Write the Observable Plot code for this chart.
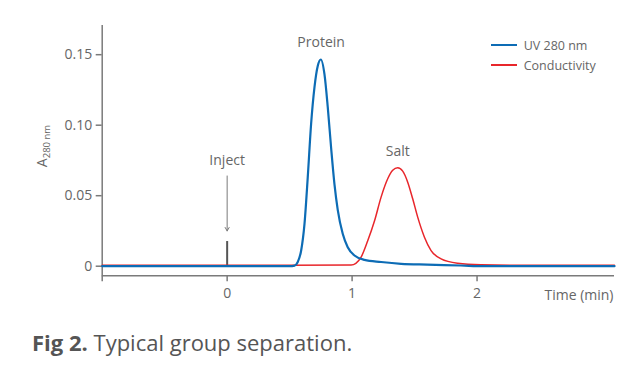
<!DOCTYPE html>
<html>
<head>
<meta charset="utf-8">
<script src="https://cdn.jsdelivr.net/npm/d3@7"></script>
<script src="https://cdn.jsdelivr.net/npm/@observablehq/plot@0.6"></script>
<style>
  html, body { margin: 0; padding: 0; background: #fff; }
  #wrap { position: relative; width: 643px; font-family: "Open Sans", sans-serif; }
  .legend-row { position: absolute; display: flex; align-items: center; font-size: 12.5px; color: #666; }
  .legend-row span.sw { display: inline-block; width: 26px; height: 0; border-top: 2px solid; margin-right: 7px; }
  #caption { margin: 18px 0 0 32px; font-size: 22px; color: #555; line-height: 28px; }
  #caption b { font-weight: 700; }
</style>
</head>
<body>
<div id="wrap">
  <div id="chart"></div>
  <div id="caption"><b>Fig 2.</b> Typical group separation.</div>
</div>
<script>
// UV 280 nm trace (time in min, absorbance)
const uvTime  = [-1, 0.0, 0.5, 0.54, 0.565, 0.592, 0.619, 0.645, 0.672, 0.699, 0.725, 0.75, 0.779, 0.805, 0.832, 0.859, 0.885, 0.925, 0.965, 1.019, 1.099, 1.232, 1.392, 1.6, 1.87, 2.05, 3.1];
const uvValue = [0, 0, 0, 0.0004, 0.003, 0.011, 0.030, 0.063, 0.101, 0.127, 0.142, 0.1466, 0.136, 0.113, 0.084, 0.058, 0.040, 0.023, 0.0135, 0.0076, 0.0045, 0.003, 0.0017, 0.0011, 0.0005, 0, 0];

// Conductivity trace (scaled to the same axis)
const condTime  = [-1, 0.5, 0.992, 1.03, 1.072, 1.125, 1.179, 1.232, 1.285, 1.325, 1.365, 1.405, 1.445, 1.485, 1.525, 1.579, 1.632, 1.712, 1.845, 2.03, 2.4, 3.1];
const condValue = [0.0006, 0.0006, 0.0008, 0.002, 0.0064, 0.018, 0.032, 0.049, 0.062, 0.068, 0.0698, 0.0674, 0.0596, 0.0478, 0.0348, 0.0206, 0.0111, 0.0052, 0.0021, 0.001, 0.0006, 0.0006];

// Axis ticks and domains
const xDomain = [-1, 3.1];
const yDomain = [-0.0068, 0.1707];
const xTicks = [-1, 0, 1, 2];
const yTicks = [0, 0.05, 0.10, 0.15];
const yTickLabels = ["0", "0.05", "0.10", "0.15"];

// Annotations
const annotLabels = ["Protein", "Salt", "Inject"];
const annotX = [0.752, 1.365, 0];
const annotY = [0.1587, 0.081, 0.075];

// Injection marker
const injectTime = 0;
const injectHeight = 0.0175;
const injectArrowFrom = 0.064;
const injectArrowTo = 0.025;

const uv = uvTime.map((t, i) => ({t, v: uvValue[i]}));
const cond = condTime.map((t, i) => ({t, v: condValue[i]}));
const annots = annotLabels.map((label, i) => ({label, t: annotX[i], v: annotY[i]}));

const BLUE = "#0d6cb5";
const RED = "#e8262b";
const GREY = "#7a7a7a";
const TXT = "#666";

const chart = Plot.plot({
  width: 643,
  height: 310,
  marginLeft: 101.7,
  marginRight: 29,
  marginTop: 25,
  marginBottom: 34.7,
  style: {fontFamily: "'Open Sans', sans-serif", fontSize: "14px", color: TXT, background: "white"},
  x: {domain: xDomain},
  y: {domain: yDomain},
  marks: [
    Plot.ruleY([yDomain[0]], {stroke: GREY, strokeWidth: 1.5}),
    Plot.ruleX([xDomain[0]], {stroke: GREY, strokeWidth: 1.5}),
    Plot.axisX({ticks: xTicks, tickSize: 6, tickPadding: 6, tickFormat: d => d === -1 ? "" : String(d), label: null, stroke: GREY, strokeWidth: 1.5, fill: TXT, fontSize: 14}),
    Plot.axisY({ticks: yTicks, tickSize: 6, tickPadding: 4, tickFormat: d => yTickLabels[yTicks.indexOf(d)], label: null, stroke: GREY, strokeWidth: 1.5, fill: TXT, fontSize: 14}),
    Plot.text(["Time (min)"], {frameAnchor: "bottom-right", dy: 20, dx: -1, fill: TXT, fontSize: 14, lineAnchor: "middle"}),
    Plot.ruleX([injectTime], {y1: 0, y2: injectHeight, stroke: "#555", strokeWidth: 2}),
    Plot.arrow([injectTime], {x1: d => d, x2: d => d, y1: injectArrowFrom, y2: injectArrowTo, stroke: GREY, strokeWidth: 1, headLength: 6}),
    Plot.line(cond, {x: "t", y: "v", stroke: RED, strokeWidth: 1.5, curve: "monotone-x"}),
    Plot.line(uv, {x: "t", y: "v", stroke: BLUE, strokeWidth: 2.2, curve: "monotone-x"}),
    Plot.text(annots, {x: "t", y: "v", text: "label", fill: TXT, fontSize: 14})
  ]
});

document.getElementById("chart").appendChild(chart);

// Y-axis title with subscript
const svg = d3.select(chart);
const yl = svg.append("text")
  .attr("transform", "translate(43,146) rotate(-90)")
  .attr("text-anchor", "middle")
  .attr("dominant-baseline", "middle")
  .attr("fill", TXT)
  .style("font-family", "'Open Sans', sans-serif")
  .style("font-size", "14px");
yl.append("tspan").text("A");
yl.append("tspan").attr("font-size", "9.5px").attr("dy", "4").text("280 nm");

// Legend
const legendItems = [["UV 280 nm", BLUE, 45], ["Conductivity", RED, 65]];
const wrap = document.getElementById("wrap");
legendItems.forEach(([name, color, top]) => {
  const row = document.createElement("div");
  row.className = "legend-row";
  row.style.left = "490.7px";
  row.style.top = (top - 9) + "px";
  row.style.height = "18px";
  row.innerHTML = `<span class="sw" style="border-color:${color}"></span><span>${name}</span>`;
  wrap.appendChild(row);
});
</script>
</body>
</html>
